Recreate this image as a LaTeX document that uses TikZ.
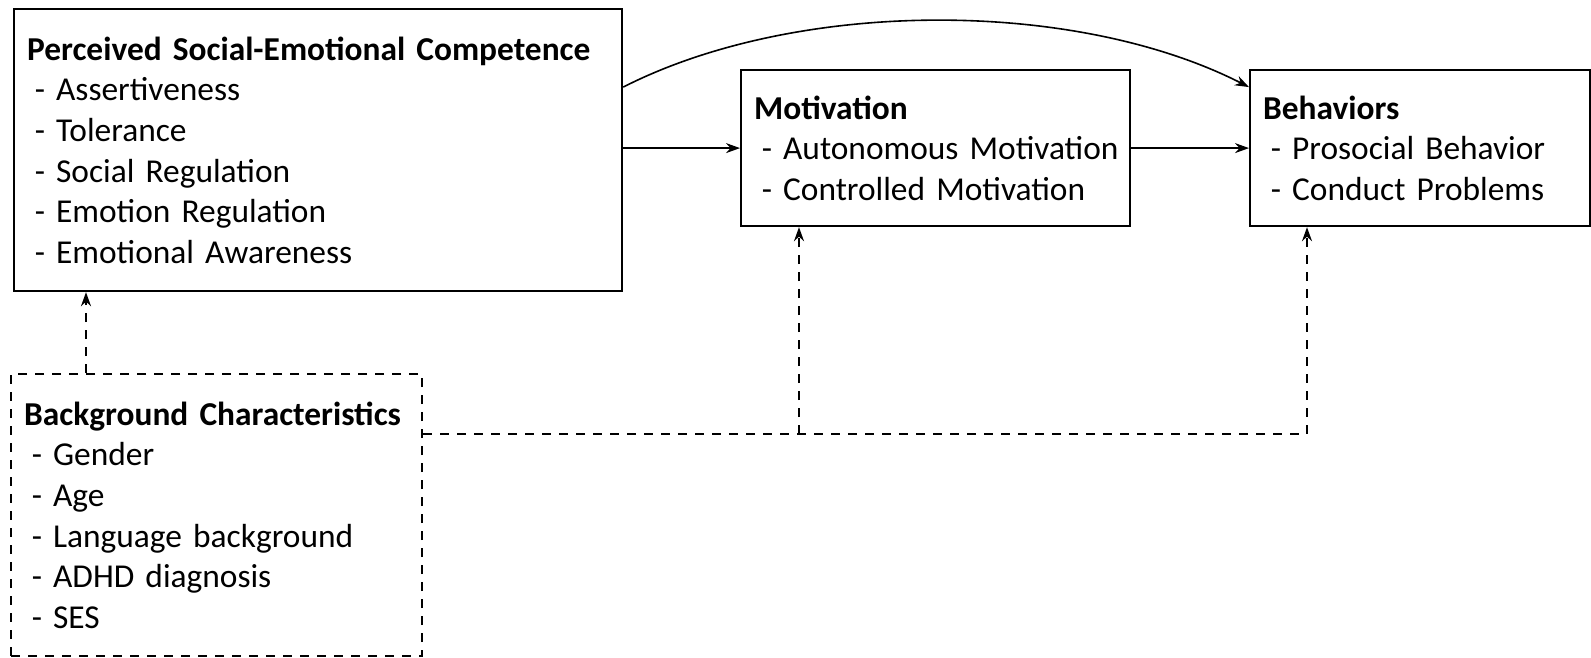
\documentclass[tikz,border=0pt]{standalone}
\usepackage{fontspec}
\setmainfont{Carlito}
\usepackage{tikz}
\usetikzlibrary{arrows.meta,positioning,calc}
\newcommand{\citem}[1]{\mbox{\hspace*{.23em}- #1}}
\tikzset{
  % construct box, text set at its left
  cbox/.style={rectangle, draw=black, line width=1.1pt, anchor=north west, align=left,
               inner xsep=6.5pt, inner ysep=0pt, font=\fontsize{16.7}{20.3}\selectfont},
  % dashed box for the control variables
  dbox/.style={cbox, dash pattern=on 4.5pt off 4pt},
  % path between constructs
  mainarrow/.style={-{Stealth[length=7pt,width=5pt]}, line width=0.8pt},
  % path from the control variables
  ctrlarrow/.style={mainarrow, dash pattern=on 4.5pt off 4pt},
}
\begin{document}
\begin{tikzpicture}[x=0.5pt, y=-0.5pt]
  \useasboundingbox (0,0) rectangle (1591,658);
  \node[cbox, text width=291pt, minimum height=141pt] (psec) at (13,8)
    {\textbf{Perceived Social-Emotional Competence}\\
     \citem{Assertiveness}\\ \citem{Tolerance}\\ \citem{Social Regulation}\\
     \citem{Emotion Regulation}\\ \citem{Emotional Awareness}};
  \node[cbox, text width=181.5pt, minimum height=78pt] (mot) at (740,69)
    {\textbf{Motivation}\\ \citem{Autonomous Motivation}\\ \citem{Controlled Motivation}};
  \node[cbox, text width=157pt, minimum height=78pt] (beh) at (1249,69)
    {\textbf{Behaviors}\\ \citem{Prosocial Behavior}\\ \citem{Conduct Problems}};
  \node[dbox, text width=192.5pt, minimum height=141pt] (bg) at (10,373)
    {\textbf{Background Characteristics}\\
     \citem{Gender}\\ \citem{Age}\\ \citem{Language background}\\
     \citem{ADHD diagnosis}\\ \citem{SES}};
  % mediation paths
  \draw[mainarrow] (psec.east |- mot.west) -- (mot.west);
  \draw[mainarrow] (mot.east) -- (beh.west);
  \draw[mainarrow] ([yshift=31.5pt]psec.east) to[out=27, in=153, looseness=0.8] ([yshift=30.5pt]beh.west);
  % controls
  \coordinate (jm) at (799,434);
  \coordinate (jb) at (1307,434);
  \draw[ctrlarrow] (bg.north -| 86,0) -- (psec.south -| 86,0);
  \draw[ctrlarrow] (bg.east |- jm) -- (jb) -- (beh.south -| jb);
  \draw[ctrlarrow] (jm) -- (mot.south -| jm);
\end{tikzpicture}
\end{document}
